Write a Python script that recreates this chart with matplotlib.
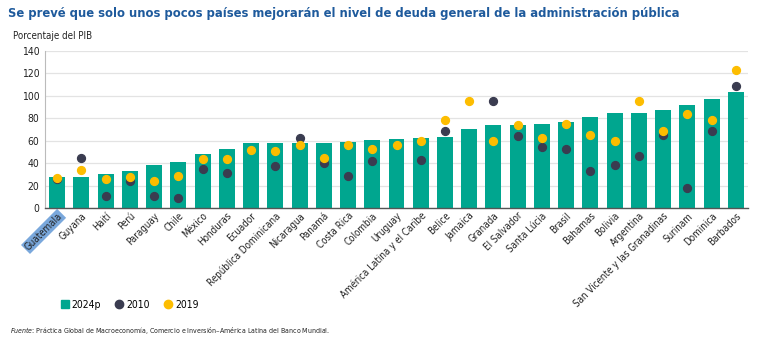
import numpy as np
import matplotlib.pyplot as plt
from matplotlib.lines import Line2D

plt.rcParams['font.family'] = ['DejaVu Sans']
plt.rcParams['font.stretch'] = 'condensed'

# Data (percent of GDP)
countries = ["Guatemala", "Guyana", "Haití", "Perú", "Paraguay", "Chile", "México",
             "Honduras", "Ecuador", "República Dominicana", "Nicaragua", "Panamá",
             "Costa Rica", "Colombia", "Uruguay", "América Latina y el Caribe",
             "Belice", "Jamaica", "Granada", "El Salvador", "Santa Lúcia", "Brasil",
             "Bahamas", "Bolivia", "Argentina", "San Vicente y las Granadinas",
             "Surinam", "Dominica", "Barbados"]
debt_2024p = [27.3, 27.3, 30.0, 33.3, 38.0, 41.0, 48.2, 52.9, 57.7, 57.7, 58.3, 58.3,
              58.9, 60.6, 61.5, 62.4, 63.3, 70.5, 74.0, 74.0, 74.6, 76.7, 81.2, 85.0,
              85.0, 87.4, 92.2, 96.9, 103.4]
debt_2010 = [25.6, 44.9, 10.4, 23.8, 11.0, 8.9, 34.8, 31.2, np.nan, 37.2, 62.4, 39.8,
             28.5, 41.6, np.nan, 43.1, 69.0, np.nan, 95.1, 63.9, 54.4, 52.3, 32.7, 38.3,
             46.4, 65.1, 17.5, 69.0, 108.8]
debt_2019 = [27.0, 34.2, 26.2, 27.3, 24.0, 28.5, 43.7, 43.7, 51.4, 50.8, 56.5, 44.9,
             56.5, 52.3, 56.5, 59.5, 78.5, 95.1, 59.8, 74.0, 62.4, 74.9, 65.1, 59.5,
             95.7, 68.4, 84.1, 78.5, 123.4]

c_bar = "#00a68f"
c_2010 = "#3a3c50"
c_2019 = "#fdbd00"

fig = plt.figure(figsize=(7.61, 3.40), dpi=100)
ax = fig.add_axes([45 / 761, 1 - 208 / 340, (748 - 45) / 761, (208 - 51) / 340])

x = np.arange(len(countries))
ax.bar(x, debt_2024p, width=0.66, color=c_bar, zorder=2)
ax.scatter(x, debt_2010, s=32, color=c_2010, zorder=3)
ax.scatter(x, debt_2019, s=32, color=c_2019, zorder=4)

ax.set_xlim(-0.5, len(countries) - 0.5)
ax.set_ylim(0, 140)
ax.set_yticks(np.arange(0, 141, 20))
ax.yaxis.grid(True, color="#e3e3e3", linewidth=0.9, zorder=0)
ax.set_axisbelow(True)
ax.tick_params(axis="y", length=0, labelsize=7.5, colors="#222222", pad=4)
ax.tick_params(axis="x", length=0, pad=2)

ax.set_xticks(x)
labels = ax.set_xticklabels(countries, rotation=45, ha="right", rotation_mode="anchor",
                            fontsize=7, color="#222222")
labels[0].set_bbox(dict(facecolor="#7aa8dc", edgecolor="none", pad=1))

for s in ["top", "right"]:
    ax.spines[s].set_visible(False)
ax.spines["left"].set_color("#bbbbbb")
ax.spines["bottom"].set_color("#555555")
ax.spines["bottom"].set_linewidth(1.0)

fig.text(8 / 761, 1 - 13 / 340, "Se prevé que solo unos pocos países mejorarán el nivel de deuda general de la administración pública",
         fontsize=9.3, color="#1e5a9c", fontweight="bold", va="center")
fig.text(13 / 761, 1 - 36 / 340, "Porcentaje del PIB", fontsize=7, color="#222222", va="center")

handles = [Line2D([], [], marker="s", linestyle="none", color=c_bar, markersize=6),
           Line2D([], [], marker="o", linestyle="none", color=c_2010, markersize=6),
           Line2D([], [], marker="o", linestyle="none", color=c_2019, markersize=6)]
fig.legend(handles, ["2024p", "2010", "2019"], loc="center left",
           bbox_to_anchor=(50 / 761, 1 - 305 / 340), ncol=3, frameon=False,
           fontsize=7.5, handletextpad=0.2, columnspacing=1.2, handlelength=1.0)

fig.text(10 / 761, 1 - 331 / 340,
         r"$\it{Fuente}$: Práctica Global de Macroeconomía, Comercio e Inversión–América Latina del Banco Mundial.",
         fontsize=5, color="#222222", va="center")

fig.savefig("out.png", dpi=100)
